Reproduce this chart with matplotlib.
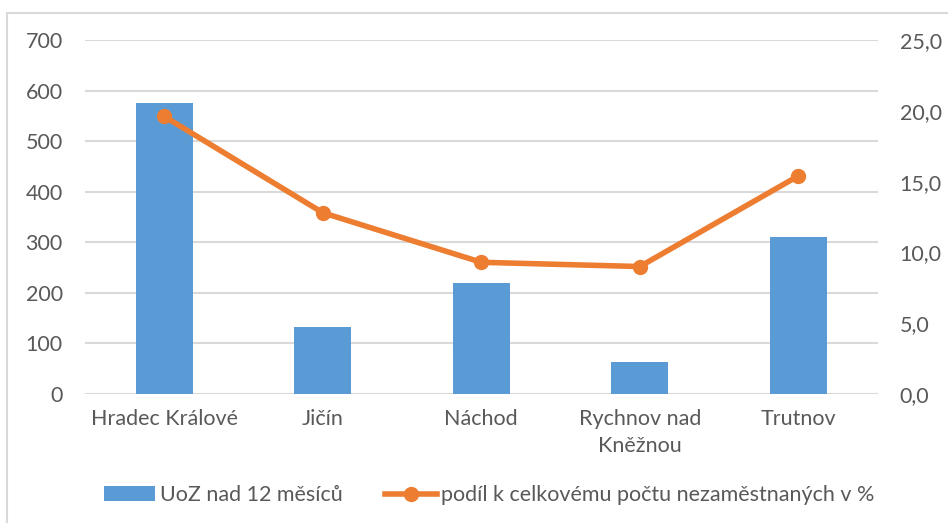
import numpy as np
import matplotlib.pyplot as plt
from matplotlib.patches import Rectangle

plt.rcParams['font.family'] = ['Lato', 'DejaVu Sans']

okresy = ['Hradec Králové', 'Jičín', 'Náchod', 'Rychnov nad\nKněžnou', 'Trutnov']
uoz_12 = [575, 132, 219, 63, 310]
podil = [19.6, 12.8, 9.3, 9.0, 15.4]
left_ticks = [0, 100, 200, 300, 400, 500, 600, 700]
right_ticks = [0, 5, 10, 15, 20, 25]

blue = '#5B9BD5'
orange = '#ED7D31'
grey_txt = '#595959'
fs = 15.5

fig = plt.figure(figsize=(9.48, 5.23), dpi=100)
fig.patches.append(Rectangle((0.007, -0.05), 1.05, 1.025, transform=fig.transFigure,
                             fill=False, edgecolor='#D9D9D9', lw=1.5))

ax = fig.add_axes([0.0897, 0.2467, 0.836, 0.6768])
x = np.arange(len(okresy))
ax.bar(x, uoz_12, width=0.36, color=blue, label='UoZ nad 12 měsíců', zorder=2)
ax.set_xlim(-0.5, 4.5)
ax.set_ylim(0, 700)
ax.set_yticks(left_ticks)
ax.set_xticks(x)
ax.set_xticklabels(okresy, linespacing=1.45)
ax.grid(axis='y', color='#D9D9D9', lw=1.5, zorder=0)
for s in ax.spines.values():
    s.set_visible(False)
ax.tick_params(length=0, labelsize=fs, colors=grey_txt)
ax.tick_params(axis='y', pad=16)
ax.tick_params(axis='x', pad=11)

ax2 = ax.twinx()
ax2.plot(x, podil, color=orange, lw=4, marker='o', ms=10,
         label='podíl k celkovému počtu nezaměstnaných v %', zorder=3)
ax2.set_ylim(0, 25)
ax2.set_yticks(right_ticks)
ax2.set_yticklabels([f'{v:.1f}'.replace('.', ',') for v in right_ticks])
for s in ax2.spines.values():
    s.set_visible(False)
ax2.tick_params(length=0, labelsize=fs, colors=grey_txt, pad=16)

h1, l1 = ax.get_legend_handles_labels()
h2, l2 = ax2.get_legend_handles_labels()
fig.legend(h1 + h2, l1 + l2, loc='center', bbox_to_anchor=(0.516, 0.053), ncol=2,
           frameon=False, fontsize=fs, labelcolor=grey_txt, handlelength=2.4,
           handletextpad=0.2, columnspacing=2.0)

fig.savefig('out.png', dpi=100)
